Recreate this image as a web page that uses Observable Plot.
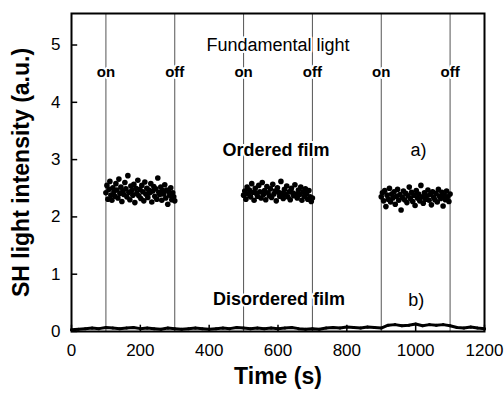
<!DOCTYPE html>
<html><head><meta charset="utf-8">
<script src="https://cdn.jsdelivr.net/npm/d3@7"></script>
<script src="https://cdn.jsdelivr.net/npm/@observablehq/plot@0.6"></script>
<style>body{margin:0;background:#fff}</style></head>
<body><div id="chart"></div>
<script>
// Fundamental light switching times (s)
const switchTimes = [100, 300, 500, 700, 900, 1100];
const switchLabels = ["on", "off", "on", "off", "on", "off"];
const xTicks = [0, 200, 400, 600, 800, 1000, 1200];
const yTicks = [0, 1, 2, 3, 4, 5];

// Ordered film SH intensity during each "on" period (a.u.)
const ordered1 = [2.42,2.55,2.31,2.48,2.62,2.38,2.29,2.51,2.44,2.36,2.58,2.47,2.33,2.66,2.41,2.52,2.27,2.45,2.39,2.6,2.49,2.35,2.72,2.43,2.3,2.54,2.46,2.38,2.57,2.25,2.5,2.41,2.64,2.37,2.48,2.32,2.55,2.44,2.28,2.61,2.4,2.5,2.34,2.47,2.42,2.58,2.26,2.45,2.53,2.36,2.49,2.31,2.68,2.43,2.39,2.52,2.29,2.46,2.4,2.56,2.33,2.47,2.22,2.44,2.38,2.51,2.3,2.42,2.35,2.28];
const ordered2 = [2.38,2.45,2.31,2.52,2.4,2.47,2.35,2.58,2.43,2.29,2.5,2.41,2.36,2.55,2.44,2.33,2.6,2.39,2.46,2.3,2.53,2.42,2.37,2.49,2.34,2.57,2.4,2.45,2.28,2.51,2.43,2.36,2.62,2.41,2.32,2.48,2.39,2.54,2.35,2.44,2.3,2.5,2.42,2.37,2.56,2.4,2.33,2.47,2.39,2.52,2.29,2.44,2.36,2.49,2.41,2.31,2.46,2.35,2.27,2.33];
const ordered3 = [2.35,2.42,2.28,2.46,2.18,2.38,2.31,2.5,2.26,2.4,2.33,2.44,2.22,2.36,2.48,2.29,2.39,2.12,2.34,2.45,2.3,2.41,2.25,2.37,2.52,2.32,2.43,2.27,2.38,2.2,2.46,2.33,2.4,2.28,2.55,2.35,2.24,2.42,2.31,2.37,2.47,2.29,2.39,2.21,2.44,2.34,2.3,2.41,2.26,2.48,2.36,2.32,2.43,2.19,2.38,2.3,2.45,2.35,2.27,2.4];
// Disordered film, sampled every 20 s from 0 to 1200 s
const disordered = [0.03,0.04,0.05,0.06,0.05,0.07,0.06,0.05,0.06,0.07,0.05,0.06,0.05,0.04,0.06,0.05,0.04,0.05,0.06,0.05,0.04,0.05,0.06,0.05,0.07,0.06,0.05,0.06,0.05,0.06,0.05,0.06,0.07,0.05,0.04,0.05,0.04,0.06,0.07,0.06,0.08,0.07,0.06,0.08,0.07,0.06,0.11,0.12,0.1,0.11,0.13,0.1,0.12,0.11,0.12,0.1,0.07,0.06,0.08,0.06,0.05];
const disorderedStep = 20;

const orderedBlocks = [ordered1, ordered2, ordered3];
const onStarts = [100, 500, 900];
const onDuration = 200;
const orderedPts = orderedBlocks.flatMap((vals, b) =>
  vals.map((v, i) => ({t: onStarts[b] + i * onDuration / (vals.length - 1), v})));
const disorderedPts = disordered.map((v, i) => ({t: i * disorderedStep, v}));
const switchData = switchTimes.map((t, i) => ({t, label: switchLabels[i]}));

const annotations = [
  {t: 600, v: 5.0, text: "Fundamental light", bold: false},
  {t: 594, v: 3.16, text: "Ordered film", bold: true},
  {t: 1008, v: 3.16, text: "a)", bold: false},
  {t: 603, v: 0.56, text: "Disordered film", bold: true},
  {t: 1002, v: 0.55, text: "b)", bold: false}
];

const chart = Plot.plot({
  width: 504, height: 396,
  marginLeft: 71, marginRight: 20, marginTop: 13, marginBottom: 65,
  style: {fontFamily: "'Liberation Sans', Arial, sans-serif", fontSize: "17px", background: "#fff", color: "#000"},
  x: {domain: [0, 1200]},
  y: {domain: [0, 5.55]},
  marks: [
    Plot.ruleX(switchTimes, {x: d => d, stroke: "#555", strokeWidth: 1}),
    Plot.lineY(disorderedPts, {x: "t", y: "v", stroke: "#000", strokeWidth: 3}),
    Plot.dot(disorderedPts, {x: "t", y: "v", r: 1.5, fill: "#000"}),
    Plot.dot(orderedPts, {x: "t", y: "v", r: 2.8, fill: "#000"}),
    Plot.text(switchData, {x: "t", y: 4.52, text: "label", fontSize: 15, fontWeight: "bold", fill: "#000", stroke: "white", strokeWidth: 4}),
    Plot.text(annotations.filter(d => d.bold), {x: "t", y: "v", text: "text", fontSize: 18, fontWeight: "bold", fill: "#000", stroke: "white", strokeWidth: 4}),
    Plot.text(annotations.filter(d => !d.bold), {x: "t", y: "v", text: "text", fontSize: 18, fill: "#000", stroke: "white", strokeWidth: 4}),
    Plot.ruleY(yTicks, {y: d => d, x1: 0, x2: 18, stroke: "#000", strokeWidth: 1.5}),
    Plot.ruleX(xTicks, {x: d => d, y1: 0, y2: 0.11, stroke: "#000", strokeWidth: 1.5}),
    Plot.axisX({ticks: xTicks, tickSize: 0, tickPadding: 12, label: null, fontSize: 17, tickFormat: d => String(d)}),
    Plot.axisY({ticks: yTicks, tickSize: 0, tickPadding: 11, label: null, fontSize: 17, tickFormat: d => String(d)}),
    Plot.text(["SH light intensity (a.u.)"], {frameAnchor: "left", textAnchor: "middle", dx: -50, rotate: -90, fontSize: 23, fontWeight: "bold", fill: "#000"}),
    Plot.text(["Time (s)"], {frameAnchor: "bottom", dy: 52, fontSize: 23, fontWeight: "bold", fill: "#000"}),
    Plot.frame({stroke: "#000", strokeWidth: 2})
  ]
});
document.getElementById("chart").append(chart);
</script>
</body></html>
